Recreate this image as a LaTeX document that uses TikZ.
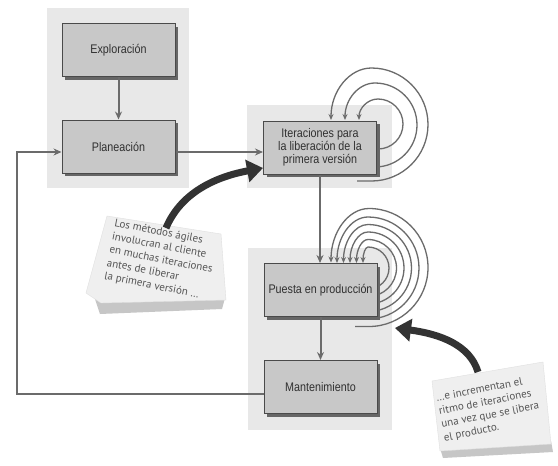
\documentclass[tikz,border=0pt]{standalone}
\usepackage{fontspec}
\setmainfont{Liberation Sans}
\newfontfamily\boxfont{Liberation Sans}[FakeStretch=0.86]
\newfontfamily\notefont{PT Sans}
\usetikzlibrary{arrows.meta,shadows}
\definecolor{panelgray}{HTML}{E8E8E8}
\definecolor{boxfill}{HTML}{C8C8C8}
\definecolor{boxborder}{HTML}{4A4A4A}
\definecolor{shadowgray}{HTML}{666666}
\definecolor{linegray}{HTML}{6B6B6B}
\definecolor{textgray}{HTML}{303030}
\definecolor{notefill}{HTML}{EFEFEF}
\definecolor{notestrip}{HTML}{C6C6C6}
\definecolor{notetext}{HTML}{555555}
\definecolor{bigarrow}{HTML}{333333}
\begin{document}
\begin{tikzpicture}[x=1pt,y=-1pt,
  panel/.style={fill=panelgray,draw=none},
  stepbox/.style={draw=boxborder,line width=1pt,fill=boxfill,
    minimum width=113pt,minimum height=53pt,inner sep=2pt,
    font=\boxfont\fontsize{12.5}{13}\selectfont,text=textgray,align=center,
    drop shadow={shadow xshift=3pt,shadow yshift=-3pt,fill=shadowgray,opacity=1}},
  conn/.style={draw=linegray,line width=2pt,-{Stealth[length=8pt,width=7pt]}},
  loopline/.style={draw=linegray,line width=1.3pt,-{Stealth[length=6pt,width=5pt]}},
  notepaper/.style={fill=notefill,draw=black!12,line width=0.4pt},
  notestrip/.style={fill=notestrip,draw=none},
  notetxt/.style={font=\notefont\fontsize{11}{13.5}\selectfont,text=notetext,align=left,inner sep=0pt},
  bigarr/.style={draw=bigarrow,line width=7pt,-{Triangle[length=16pt,width=22pt]}}]
\useasboundingbox (0,0) rectangle (558,466);
\fill[white] (0,0) rectangle (558,466);
% panels
\fill[panel] (47,8) rectangle (189,188);
\fill[panel] (247,105) rectangle (392,188);
\fill[panel] (248,248) rectangle (392,430);
% loops around Iteraciones
\draw[loopline] (378,149) arc[start angle=90,end angle=-90,radius=25]
  arc[start angle=-90,end angle=-180,x radius=19,y radius=21];
\draw[loopline] (375,167) arc[start angle=90,end angle=-90,radius=42]
  arc[start angle=-90,end angle=-180,x radius=30,y radius=37];
\draw[loopline] (357,181) -- (371.5,181) arc[start angle=90,end angle=-90,radius=56.5]
  arc[start angle=-90,end angle=-180,x radius=40.5,y radius=52];
% loops around Puesta
\draw[loopline] (368,289) arc[start angle=90,end angle=-90,radius=21]
  arc[start angle=-90,end angle=-180,x radius=5,y radius=16];
\draw[loopline] (368,296.5) arc[start angle=90,end angle=-90,radius=28.5]
  arc[start angle=-90,end angle=-180,x radius=11.5,y radius=23.5];
\draw[loopline] (368,304) arc[start angle=90,end angle=-90,radius=36]
  arc[start angle=-90,end angle=-180,x radius=18,y radius=31];
\draw[loopline] (368,311.5) arc[start angle=90,end angle=-90,radius=43.5]
  arc[start angle=-90,end angle=-180,x radius=24.5,y radius=38.5];
\draw[loopline] (360,319) -- (368,319) arc[start angle=90,end angle=-90,radius=51]
  arc[start angle=-90,end angle=-180,x radius=31,y radius=46];
\draw[loopline] (355,326.5) -- (369,326.5) arc[start angle=90,end angle=-90,radius=59]
  arc[start angle=-90,end angle=-180,x radius=38,y radius=54];
% boxes
\node[stepbox] (expl) at (118.5,50) {Exploración};
\node[stepbox] (plan) at (118.5,146.5) {Planeación};
\node[stepbox] (iter) at (320,147.5) {Iteraciones para\\la liberación de la\\primera versión};
\node[stepbox] (prod) at (320.5,290) {Puesta en producción};
\node[stepbox] (mant) at (320.5,387) {Mantenimiento};
% connectors
\draw[conn] (expl) -- (plan);
\draw[conn] ([yshift=-5.5pt]plan.east) -- ([yshift=-5.5pt]plan.east -| iter.west);
\draw[conn] (iter.south -| 320,0) -- (prod.north -| 320,0);
\draw[conn] (prod) -- (mant);
\coordinate (fbl) at (17,394);
\coordinate (ful) at (17,152);
\draw[conn] ([yshift=-7pt]mant.west) -- (fbl) -- (ful) -- (ful -| plan.west);
% note 1
\fill[notestrip] (94,296) -- (225,298) -- (222,309) -- (100,314) -- cycle;
\filldraw[notepaper] (107,216) -- (221,234) -- (226,300) -- (101,303) -- (86,293) -- cycle;
\node[notetxt,rotate=-11] (note1) at (161,260) {Los métodos ágiles\\involucran al cliente\\en muchas iteraciones\\antes de liberar\\la primera versión \dots};
% note 2
\fill[notestrip] (440,448) -- (551,441) -- (553,452) -- (443,458) -- cycle;
\filldraw[notepaper] (432,381) -- (543,362) -- (551,444) -- (440,451) -- cycle;
\node[notetxt,rotate=11] (note2) at (489,409) {\dots e incrementan el\\ritmo de iteraciones\\una vez que se libera\\el producto.};
% big arrows
\coordinate (a1s) at (166,228);
\coordinate (a1e) at (263,168);
\draw[bigarr] (a1s) .. controls (182,190) and (220,176) .. (a1e);
\coordinate (a2s) at (478,372);
\coordinate (a2e) at (395,328);
\draw[bigarr] (a2s) .. controls (470,345) and (440,334) .. (a2e);
\end{tikzpicture}
\end{document}
